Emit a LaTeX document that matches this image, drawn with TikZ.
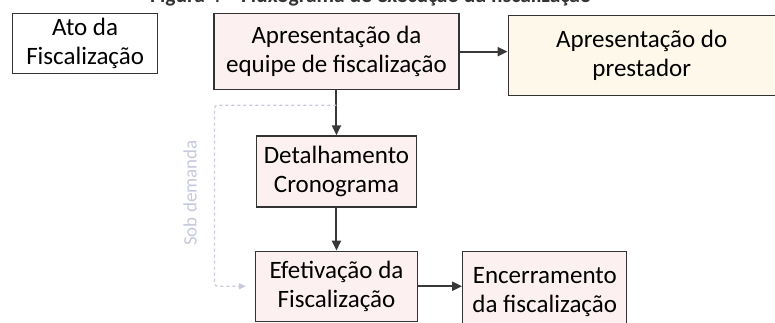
\documentclass[tikz,border=0pt]{standalone}
\usepackage{fontspec}
\setmainfont{Carlito}
\usetikzlibrary{positioning,arrows.meta}
\definecolor{pinkfill}{HTML}{FCF0F0}
\definecolor{creamfill}{HTML}{FDF8EA}
\definecolor{demandgray}{HTML}{C6C9DC}
\begin{document}
\begin{tikzpicture}[x=1pt, y=-1pt, node distance=45pt, every node/.style={font=\fontsize{25}{29}\selectfont}]
    \tikzstyle{stage} = [rectangle, minimum width=160pt, minimum height=71pt, inner sep=0pt, align=center, draw=black!80, line width=1.3pt, fill=pinkfill]
    \tikzstyle{flow} = [draw=black!78, line width=2pt, -{Triangle[length=10pt,width=9pt]}]
    \tikzstyle{ondemand} = [draw=demandgray, line width=1.3pt, dashed, rounded corners=3pt, -{Triangle[length=7pt,width=6pt]}]

    \useasboundingbox (0,0) rectangle (775,323);
    \clip (0,0) rectangle (775,323);

    % Title (cut at the top)
    \node [anchor=base west, inner sep=0pt, text=black!80, font=\fontsize{21.5}{24}\selectfont\bfseries] (title) at (150,3) {Figura 4 – Fluxograma de execução da fiscalização};

    % Top row
    \node [stage, fill=white, minimum width=145pt, minimum height=60pt, anchor=north west] (ato) at (12,13) {Ato da\\Fiscalização};
    \node [stage, minimum width=245pt, minimum height=76pt, right=55pt of ato.north east, anchor=north west] (equipe) {Apresentação da\\equipe de fiscalização};
    \node [stage, fill=creamfill, minimum width=267pt, minimum height=80pt, right=48pt of equipe, yshift=-4pt] (prestador) {Apresentação do\\prestador};

    % Execution column
    \node [stage, below=45pt of equipe] (detalhe) {Detalhamento\\Cronograma};
    \node [stage, minimum width=162pt, minimum height=70pt, below=43pt of detalhe] (efetivacao) {Efetivação da\\Fiscalização};
    \node [stage, minimum width=164pt, minimum height=82pt, right=44pt of efetivacao.north east, anchor=north west] (encerramento) {Encerramento\\da fiscalização};

    % Connections
    \draw [flow] (equipe.east) -- (prestador.west |- equipe.east);
    \draw [flow] (equipe) -- (detalhe);
    \draw [flow] (detalhe) -- (efetivacao);
    \draw [flow] (efetivacao) -- (encerramento.west |- efetivacao.east);

    % On demand loop
    \coordinate (split) at ([yshift=-15pt]equipe.south);
    \draw [ondemand, shorten >=9pt] (split) -- ++(-122,0) |- (efetivacao.west);
    \node [rotate=90, text=demandgray, font=\fontsize{19}{22}\selectfont] (demanda) at (190,193) {Sob demanda};
\end{tikzpicture}
\end{document}
